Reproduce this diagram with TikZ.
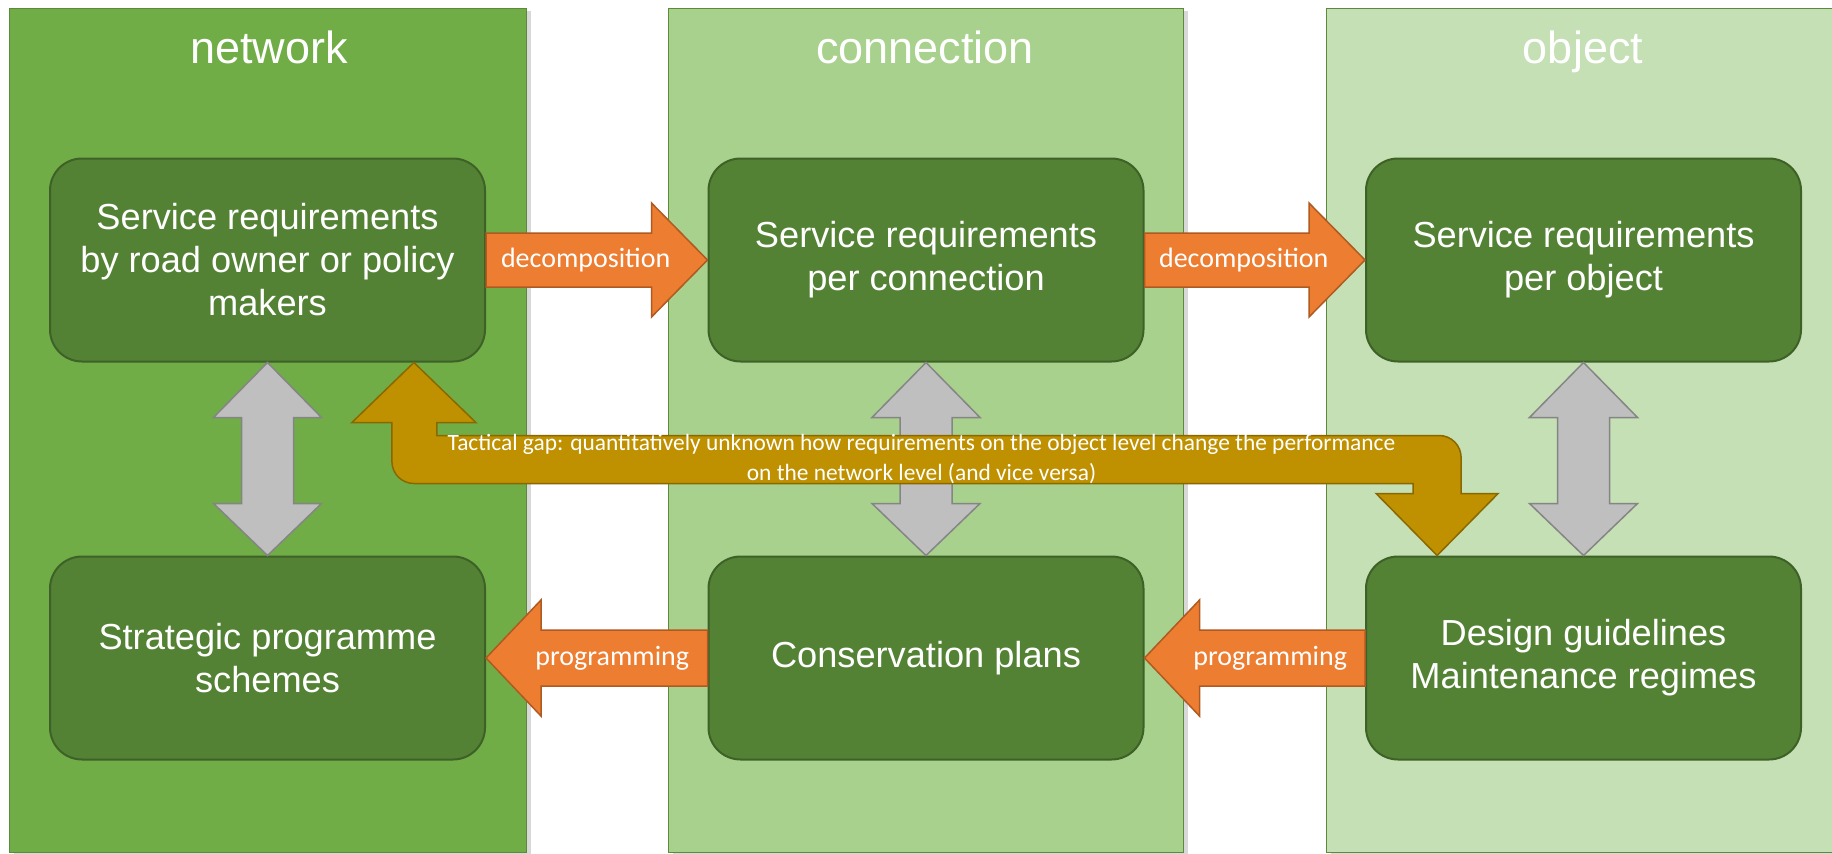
\documentclass[tikz,border=0pt]{standalone}
\usepackage{fontspec}
\setmainfont{Liberation Sans}
\newfontfamily\calfont{Carlito}
\usetikzlibrary{calc,shadows}
\definecolor{colA}{HTML}{70AD47}
\definecolor{colB}{HTML}{A9D18E}
\definecolor{colC}{HTML}{C5E0B4}
\definecolor{colborder}{HTML}{5A8A3A}
\definecolor{boxfill}{HTML}{548235}
\definecolor{boxline}{HTML}{3D6127}
\definecolor{orfill}{HTML}{ED7D31}
\definecolor{orline}{HTML}{AE5A21}
\definecolor{goldfill}{HTML}{BF9000}
\definecolor{goldline}{HTML}{8A6800}
\definecolor{grayfill}{HTML}{BFBFBF}
\definecolor{grayline}{HTML}{858585}
\tikzset{
  column/.style={draw=colborder, line width=1.2pt, drop shadow={opacity=0.3, shadow xshift=4pt, shadow yshift=-2pt}},
  title/.style={text=white, font=\fontsize{45}{50}\selectfont, anchor=base},
  box/.style={draw=boxline, line width=2pt, fill=boxfill, rounded corners=32pt,
    minimum width=435pt, minimum height=203pt, text=white, align=center,
    font=\fontsize{36.2}{43}\selectfont, inner sep=0pt},
  orarr/.style={draw=orline, line width=1.5pt, fill=orfill},
  grayarr/.style={draw=grayline, line width=1.5pt, fill=grayfill},
  goldarr/.style={draw=goldline, line width=1.5pt, fill=goldfill},
  arrlabel/.style={text=white, font=\calfont\fontsize{28}{32}\selectfont},
  gaplabel/.style={text=white, align=center, font=\calfont\fontsize{23.4}{30}\selectfont}
}
\newcommand\rightblock[3]{%
  \draw[orarr] let \p1=(#1.east), \p2=(#2.west) in
    (\x1,\y1+27pt) -- (\x2-56pt,\y1+27pt) -- (\x2-56pt,\y1+57pt) -- (\x2,\y1)
    -- (\x2-56pt,\y1-57pt) -- (\x2-56pt,\y1-27pt) -- (\x1,\y1-27pt) -- cycle;
  \node[arrlabel] at ($(#1.east)!0.45!(#2.west)$) {#3};}
\newcommand\leftblock[3]{%
  \draw[orarr] let \p1=(#1.east), \p2=(#2.west) in
    (\x2,\y1+28pt) -- (\x1+55pt,\y1+28pt) -- (\x1+55pt,\y1+58pt) -- (\x1,\y1)
    -- (\x1+55pt,\y1-58pt) -- (\x1+55pt,\y1-28pt) -- (\x2,\y1-28pt) -- cycle;
  \node[arrlabel] at ($(#2.west)!0.43!(#1.east)$) {#3};}
\newcommand\vdouble[2]{%
  \draw[grayarr] let \p1=(#1.south), \p2=(#2.north) in
    (\p1) -- (\x1+54pt,\y1-55pt) -- (\x1+26pt,\y1-55pt) -- (\x1+26pt,\y2+52pt)
    -- (\x1+54pt,\y2+52pt) -- (\x1,\y2) -- (\x1-54pt,\y2+52pt) -- (\x1-26pt,\y2+52pt)
    -- (\x1-26pt,\y1-55pt) -- (\x1-54pt,\y1-55pt) -- cycle;}
\begin{document}
\begin{tikzpicture}[x=1pt,y=1pt]
\useasboundingbox (0,0) rectangle (1832,-854);
\fill[white] (0,0) rectangle (1832,-854);
% columns
\node[column, fill=colA, minimum width=517pt, minimum height=844pt, anchor=north west, inner sep=0pt] (c1) at (9,-8) {};
\node[column, fill=colB, minimum width=515pt, minimum height=844pt, anchor=north west, inner sep=0pt] (c2) at (668,-8) {};
\node[column, fill=colC, minimum width=520pt, minimum height=844pt, anchor=north west, inner sep=0pt] (c3) at (1326,-8) {};
\node[title] (t1) at (269,-63) {network};
\node[title] (t2) at (925,-63) {connection};
\node[title] (t3) at (1583,-63) {object};
% boxes
\node[box] (n1) at (267.5,-260) {Service requirements\\by road owner or policy\\makers};
\node[box] (n2) at (926,-260) {Service requirements\\per connection};
\node[box] (n3) at (1583.5,-260) {Service requirements\\per object};
\node[box] (m1) at (267.5,-658) {Strategic programme\\schemes};
\node[box] (m2) at (926,-658) {Conservation plans};
\node[box] (m3) at (1583.5,-658) {Design guidelines\\Maintenance regimes};
% orange arrows
\rightblock{n1}{n2}{decomposition}
\rightblock{n2}{n3}{decomposition}
\leftblock{m1}{m2}{programming}
\leftblock{m2}{m3}{programming}
% gray double arrows
\vdouble{n1}{m1}
\vdouble{n2}{m2}
\vdouble{n3}{m3}
% gold tactical gap arrow
\coordinate (gA) at ($(n1.south west)!0.835!(n1.south east)$);
\coordinate (gB) at ($(m3.north west)!0.165!(m3.north east)$);
\draw[goldarr] let \p1=(gA), \p2=(gB) in
  (\p1) -- (\x1+62pt,\y1-60pt) -- (\x1+23pt,\y1-60pt) -- (\x1+23pt,\y1-73pt)
  -- (\x2+2pt,\y1-73pt) arc[start angle=90,end angle=0,radius=22pt]
  -- (\x2+24pt,\y2+62pt) -- (\x2+61pt,\y2+62pt) -- (\p2) -- (\x2-61pt,\y2+62pt)
  -- (\x2-24pt,\y2+62pt) -- (\x2-24pt,\y1-121pt)
  -- (\x1,\y1-121pt) arc[start angle=270,end angle=180,radius=22pt]
  -- (\x1-22pt,\y1-60pt) -- (\x1-62pt,\y1-60pt) -- cycle;
\path let \p1=($(gA)!0.5!(gB)$) in
  node[gaplabel] (gap) at (\x1-4pt,-459) {Tactical gap: quantitatively unknown how requirements on the object level change the performance\\on the network level (and vice versa)};
\end{tikzpicture}
\end{document}
